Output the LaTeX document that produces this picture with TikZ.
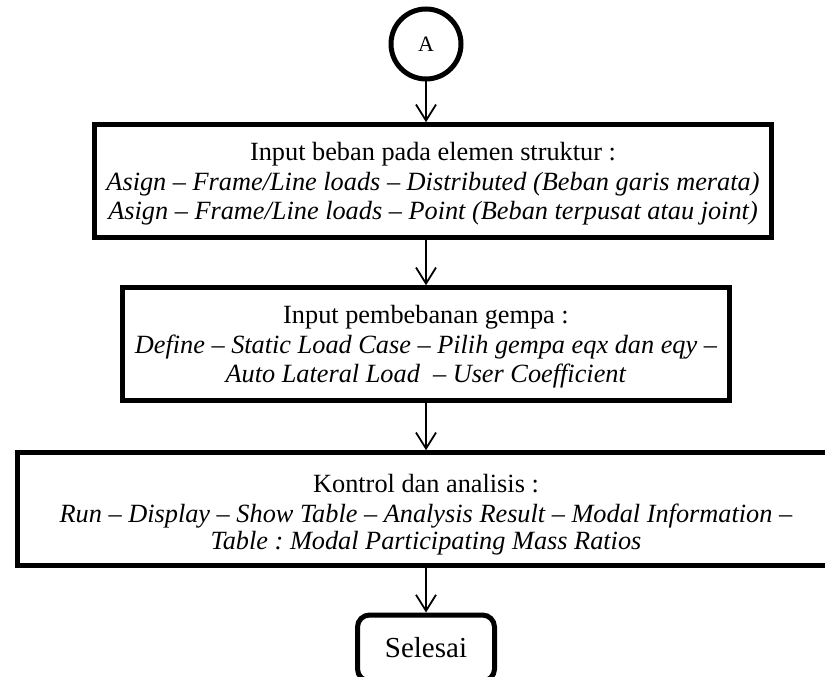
\documentclass[tikz,border=0pt]{standalone}
\usepackage{fontspec}
\setmainfont{Liberation Serif}
\usetikzlibrary{arrows.meta}
% strut that lowers the text block inside a box
\newcommand{\lowerby}[1]{\rule{0pt}{#1}}
\frenchspacing
\begin{document}
\begin{tikzpicture}[x=1pt,y=-1pt,
  stepbox/.style={draw,line width=4.5pt,rectangle,align=center,inner sep=0pt,
    minimum height=113pt,font=\fontsize{26.3}{29.5}\selectfont},
  connector/.style={draw,line width=1.8pt,-{Straight Barb[length=16pt,width=20pt,line width=1.8pt]}},
  startnode/.style={draw,circle,line width=5pt,minimum size=70pt,inner sep=0pt,
    font=\fontsize{22}{24}\selectfont},
  endnode/.style={draw,rectangle,rounded corners=12pt,line width=5pt,
    minimum width=137pt,minimum height=66pt,inner sep=0pt,
    font=\fontsize{29}{32}\selectfont}]
\useasboundingbox (0,0) rectangle (825,677);
\fill[white] (0,0) rectangle (825,677);

\node[startnode] (a) at (426,44) {A};

\node[stepbox,minimum width=677pt] (b1) at (433,181)
  {\lowerby{24pt}Input beban pada elemen struktur :\\
   \textit{Asign -- Frame/Line loads -- Distributed (Beban garis merata)}\\
   \textit{Asign -- Frame/Line loads -- Point (Beban terpusat atau joint)}};

\node[stepbox,minimum width=607pt] (b2) at (426,344)
  {\lowerby{24pt}Input pembebanan gempa :\\
   \textit{Define -- Static Load Case -- Pilih gempa eqx dan eqy --}\\
   \textit{Auto Lateral Load\ \ -- User Coefficient}};

\node[stepbox,minimum width=817pt] (b3) at (426,509)
  {\lowerby{30pt}Kontrol dan analisis :\\
   \textit{Run -- Display -- Show Table -- Analysis Result -- Modal Information --}\\[-2pt]
   \textit{Table : Modal Participating Mass Ratios}};

\node[endnode] (e) at (426,648) {Selesai};

\draw[connector] (a.south) -- (a.south |- b1.north);
\draw[connector] (b1.south -| a.south) -- (a.south |- b2.north);
\draw[connector] (b2.south -| a.south) -- (a.south |- b3.north);
\draw[connector] (b3.south -| a.south) -- (e.north);
\end{tikzpicture}
\end{document}
